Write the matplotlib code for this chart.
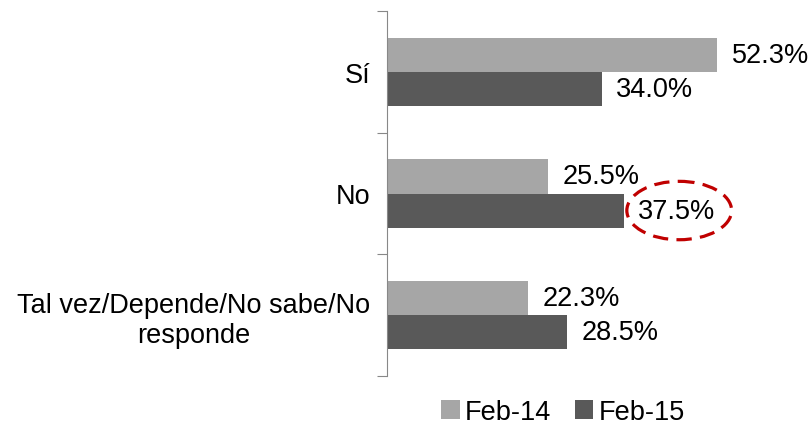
import matplotlib.pyplot as plt
from matplotlib.patches import Ellipse
import numpy as np

plt.rcParams['font.family'] = ['Liberation Sans', 'DejaVu Sans']

# respuestas y porcentajes por ola
categorias = ['Sí', 'No', 'Tal vez/Depende/No sabe/No\nresponde']
series = ['Feb-14', 'Feb-15']
feb14 = [52.3, 25.5, 22.3]
feb15 = [34.0, 37.5, 28.5]
colores = ['#a6a6a6', '#595959']

fig = plt.figure(figsize=(8.08, 4.27), dpi=100)
ax = fig.add_axes([387/808, 50/427, 373/808, 365/427])

y = np.arange(len(categorias))
h = 0.28
b1 = ax.barh(y - h/2, feb14, height=h, color=colores[0], label=series[0])
b2 = ax.barh(y + h/2, feb15, height=h, color=colores[1], label=series[1])

for barras, vals in ((b1, feb14), (b2, feb15)):
    for rect, v in zip(barras, vals):
        ax.annotate(f'{v:.1f}%', (v, rect.get_y() + rect.get_height()/2),
                    xytext=(10.5, 0), textcoords='offset points',
                    ha='left', va='center', fontsize=19.5)

# resaltar el valor de "No" en Feb-15
ax.add_patch(Ellipse((feb15[1] + 8.8, 1 + h/2), 16.6, 0.48,
                     fill=False, edgecolor='#c00000', lw=2.3,
                     linestyle=(0, (4.8, 2.6)), clip_on=False))

ax.set_xlim(0, 59.1)
ax.set_ylim(2.5, -0.5)
ax.set_xticks([])
ax.set_yticks([-0.5, 0.5, 1.5, 2.5])
ax.set_yticklabels([])
ax.set_yticks(y, minor=True)
ax.set_yticklabels(categorias, minor=True, fontsize=19.5)
for lbl in ax.get_yticklabels(minor=True):
    lbl.set_multialignment('center')
ax.tick_params(axis='y', which='major', length=7, color='#888888', direction='out')
ax.tick_params(axis='y', which='minor', length=0, pad=12)

for s in ['top', 'right', 'bottom']:
    ax.spines[s].set_visible(False)
ax.spines['left'].set_color('#888888')

fig.legend(handles=[b1, b2], loc='center', bbox_to_anchor=(563/808, 1 - 413/427),
           ncol=2, frameon=False, fontsize=19.5, handlelength=0.7,
           handleheight=0.7, handletextpad=0.2, columnspacing=0.85)

plt.savefig('out.png')
